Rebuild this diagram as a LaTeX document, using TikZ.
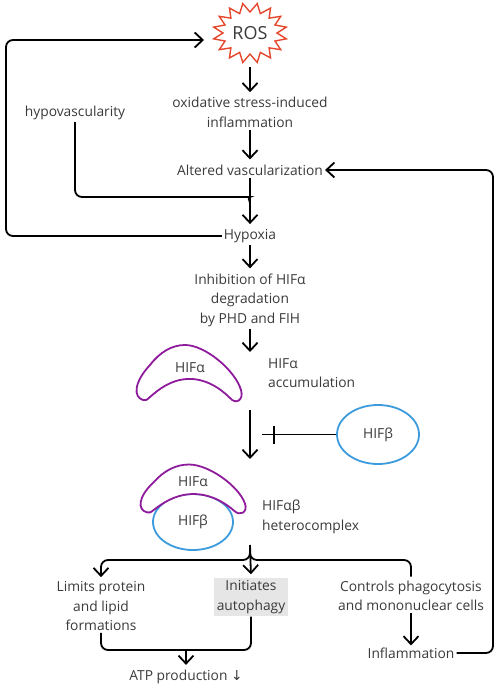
\documentclass[tikz,border=0pt]{standalone}
\usepackage{fontspec}
\setmainfont{Open Sans}
\newfontfamily\djv{DejaVu Sans}
\usetikzlibrary{arrows.meta,shapes.geometric,calc}
\definecolor{txtc}{HTML}{3A3A3A}
\definecolor{rosred}{HTML}{E5472D}
\definecolor{purp}{HTML}{8E1B9B}
\definecolor{blu}{HTML}{3C9BDC}
\definecolor{grayf}{HTML}{E6E6E6}
\tikzset{
  txt/.style={font=\fontsize{13.8}{19.5}\selectfont, text=txtc, align=center, inner sep=2pt},
  conn/.style={line width=1.8pt, draw=black, rounded corners=7pt},
  arr/.style={conn, -{Straight Barb[length=8pt,width=15pt]}},
  crescent/.pic={
    \draw[purp, line width=1.8pt, fill=white]
      (-45,28) .. controls (-55,25) and (-54,10) .. (-38,-7)
      .. controls (-28,-20) and (-16,-27) .. (-3,-27)
      .. controls (17,-27) and (47,-2) .. (53,18)
      .. controls (56,28) and (48,33) .. (42,26)
      .. controls (32,16) and (17,6) .. (-1,7)
      .. controls (-18,8) and (-30,18) .. (-38,25)
      .. controls (-41,28) and (-43,29) .. (-45,28) -- cycle;
  },
  blob/.style={ellipse, draw=blu, line width=1.8pt, fill=white},
}
\begin{document}
\begin{tikzpicture}[x=1pt,y=-1pt]
\useasboundingbox (0,0) rectangle (498,688);
% ROS
\node[txt, font=\fontsize{18}{20}\selectfont, ellipse, minimum width=74pt, minimum height=60pt, inner sep=0pt] (ros) at (250,33) {ROS};
\draw[rosred, line width=1.4pt, line join=miter, shift={(ros.center)}]
  plot[samples at={0,...,31}, variable=\k]
  ({(mod(\k,2)==0 ? 37 : 27)*cos(\k*360/32+11.25)}, {(mod(\k,2)==0 ? 30 : 21)*sin(\k*360/32+11.25)}) -- cycle;
% text nodes
\node[txt] (ox) at (250,112.5) {oxidative stress-induced\\inflammation};
\node[txt] (alt) at (250,170) {Altered vascularization};
\node[txt] (hypov) at (75,113) {hypovascularity};
\node[txt] (hyp) at (250,236) {Hypoxia};
\node[txt] (inh) at (250,300) {Inhibition of HIFα\\degradation\\by PHD and FIH};
\node[txt, align=left, anchor=west] (acc) at (266,373) {HIFα\\accumulation};
% single HIF alpha
\pic at (188,372) {crescent};
\node[txt] (ha1) at (190,368) {HIFα};
% HIF beta
\node[blob, txt, minimum width=82pt, minimum height=59pt] (hifb) at (378,434.5) {HIFβ};
% complex
\node[blob, minimum width=80pt, minimum height=56pt] (cb) at (193,522) {};
\pic[yscale=0.87] at (192,488) {crescent};
\node[txt] (ha2) at (193,482) {HIFα};
\node[txt] (hb2) at (193,522) {HIFβ};
\node[txt, align=left, anchor=west] (het) at (260,517) {HIFαβ\\heterocomplex};
% lower
\node[txt] (lim) at (101,606) {Limits protein\\and lipid\\formations};
\node[txt, fill=grayf, inner sep=3pt] (aut) at (251,597) {Initiates\\autophagy};
\node[txt] (ctl) at (411,596) {Controls phagocytosis\\and mononuclear cells};
\node[txt] (infl) at (411,653) {Inflammation};
\node[txt] (atp) at (186,677) {ATP production {\djv ↓}};
% coordinates
\coordinate (rosin) at (204,40);
\coordinate (lx) at (6,0);
\coordinate (rx) at (493,0);
\coordinate (jn) at (250,197);
\coordinate (a1) at (250,352);
\coordinate (c1) at (250,410);
\coordinate (c2) at (250,459);
\coordinate (ib) at (262,434.5);
\coordinate (cd1) at (250,545);
\coordinate (fk) at (250,560);
\coordinate (m) at (186,650);
% connectors
\draw[arr, shorten <=4pt, shorten >=3pt] (ros.south) -- (ox.north);
\draw[arr, shorten >=3pt] (ox.south) -- (alt.north);
\draw[arr, shorten >=3pt] (alt.south) -- (hyp.north);
\draw[conn] (hypov.south) |- ($(jn)+(-7,0)$) to[out=0,in=90] ($(jn)+(0,7)$);
\draw[arr] (hyp.west) -- (lx |- hyp.west) |- (rosin);
\draw[arr] (infl.east) -- (rx |- infl.east) |- (alt.east);
\draw[arr, shorten >=3pt] (hyp.south) -- (inh.north);
\draw[arr] (inh.south) -- (a1);
\draw[arr] (c1) -- (c2);
\draw[conn] (hifb.west) -- (ib);
\draw[conn] ($(ib)+(12,-9)$) -- ($(ib)+(12,9)$);
\draw[arr, shorten >=2pt] (cd1) -- (fk) -| (lim.north);
\draw[arr, shorten >=3pt] (cd1) -- (aut.north);
\draw[conn, shorten >=2pt] (cd1) -- (fk) -| (ctl.north);
\draw[conn] (lim.south) |- (m);
\draw[conn] (aut.south) |- (m);
\draw[arr, shorten >=3pt] (m) -- (atp.north);
\draw[arr] (ctl.south) -- (infl.north);
\end{tikzpicture}
\end{document}
